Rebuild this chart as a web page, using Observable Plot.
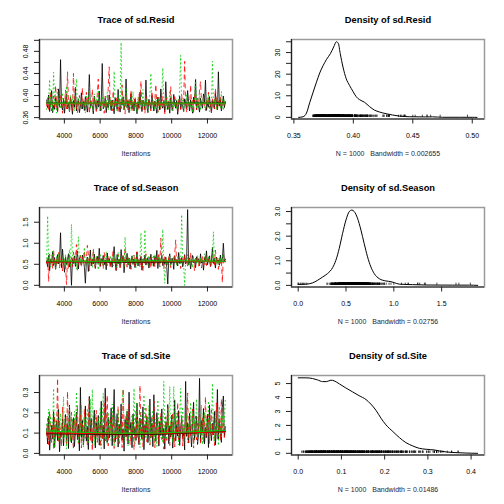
<!DOCTYPE html>
<html>
<head>
<meta charset="utf-8">
<script src="https://cdn.jsdelivr.net/npm/d3@7"></script>
<script src="https://cdn.jsdelivr.net/npm/@observablehq/plot@0.6"></script>
<style>
  html, body { margin: 0; padding: 0; background: #fff; }
  #grid { display: grid; grid-template-columns: 252px 252px; grid-template-rows: 168px 168px 168px; width: 504px; height: 504px; }
  #grid svg { display: block; overflow: visible; }
</style>
</head>
<body>
<div id="grid"></div>
<script>
// ---------- data ----------
const startIter = 3010, thinStep = 55.5, nKept = 181;
const iterations = d3.range(nKept).map(i => startIter + i * thinStep);

const residChain1 = [.392,.378,.401,.371,.386,.409,.369,.382,.375,.396,.384,.371,.412,.379,.465,.381,.374,.393,.368,.388,
.402,.376,.385,.371,.397,.383,.366,.391,.379,.415,.372,.387,.394,.369,.381,.405,.376,.389,.373,.398,
.384,.370,.392,.438,.377,.386,.381,.367,.399,.385,.374,.391,.379,.408,.372,.388,.458,.376,.383,.395,
.369,.387,.378,.401,.384,.373,.392,.380,.367,.396,.386,.375,.411,.381,.370,.389,.383,.398,.374,.386,
.430,.378,.391,.369,.385,.403,.376,.388,.372,.394,.381,.367,.389,.377,.406,.383,.371,.392,.386,.375,
.428,.380,.369,.393,.384,.376,.401,.387,.372,.390,.379,.368,.397,.385,.374,.412,.382,.377,.391,.370,
.425,.384,.375,.389,.368,.396,.381,.373,.402,.386,.377,.391,.366,.384,.399,.375,.388,.380,.371,.394,
.383,.376,.409,.387,.372,.392,.380,.368,.397,.385,.430,.374,.389,.381,.370,.395,.384,.377,.403,.388,
.428,.373,.386,.379,.398,.382,.369,.391,.385,.376,.404,.388,.374,.443,.381,.393,.372,.386,.399,.378,
.389];
const residChain2 = [.381,.396,.374,.388,.407,.372,.385,.399,.376,.418,.383,.370,.391,.379,.402,.387,.368,.395,.381,.410,
.376,.443,.389,.371,.397,.384,.373,.440,.386,.393,.378,.369,.382,.400,.387,.375,.414,.381,.392,.373,
.406,.385,.398,.367,.390,.382,.411,.376,.394,.385,.371,.403,.430,.379,.388,.374,.391,.383,.368,.399,
.386,.377,.412,.452,.381,.393,.372,.408,.385,.378,.396,.384,.370,.397,.388,.376,.419,.382,.391,.367,
.402,.387,.374,.395,.381,.410,.373,.389,.384,.398,.379,.386,.371,.403,.388,.426,.374,.391,.383,.368,
.399,.386,.377,.393,.381,.372,.408,.385,.378,.394,.420,.384,.370,.397,.388,.376,.405,.382,.391,.367,
.385,.396,.374,.389,.381,.416,.373,.388,.384,.398,.379,.386,.371,.395,.383,.375,.401,.387,.392,.462,
.384,.370,.397,.388,.376,.419,.382,.391,.367,.402,.387,.374,.395,.381,.410,.425,.389,.384,.398,.379,
.373,.391,.385,.406,.377,.388,.369,.394,.382,.376,.413,.386,.372,.390,.381,.399,.375,.387,.393,.380,
.384];
const residChain3 = [.375,.386,.392,.429,.379,.393,.371,.442,.384,.390,.368,.412,.381,.397,.376,.388,.405,.373,.392,.383,
.417,.377,.389,.370,.401,.385,.394,.379,.372,.408,.430,.380,.396,.374,.386,.383,.390,.378,.387,.369,
.401,.393,.384,.415,.376,.389,.381,.372,.403,.386,.395,.374,.410,.382,.388,.371,.399,.385,.377,.392,
.383,.406,.373,.389,.397,.380,.386,.375,.444,.384,.391,.370,.401,.387,.378,.496,.382,.395,.374,.388,
.414,.379,.390,.385,.372,.396,.381,.407,.373,.388,.384,.369,.398,.386,.376,.392,.380,.411,.375,.389,
.382,.395,.371,.387,.403,.440,.378,.391,.385,.374,.399,.383,.370,.394,.386,.377,.404,.450,.381,.388,
.372,.397,.384,.376,.409,.385,.391,.373,.388,.380,.396,.375,.386,.382,.414,.473,.379,.392,.371,.387,
.383,.401,.374,.389,.385,.378,.395,.369,.386,.392,.430,.376,.388,.381,.407,.373,.390,.384,.397,.380,
.375,.391,.386,.402,.371,.388,.383,.462,.379,.394,.385,.374,.399,.381,.390,.376,.407,.384,.373,.392,
.386];

const seasonChain1 = [.58,.44,.71,.35,.62,.53,.80,.47,.66,.38,.59,.73,.51,.64,1.25,.42,.86,.55,.31,.68,
.49,.61,.75,.44,.57,.00,.63,.52,.70,.45,.59,.81,.39,.66,.54,.48,.72,.61,.43,.05,
.56,.67,.33,.58,.84,.46,.62,.51,.74,.40,.59,.69,.52,.88,.45,.63,.56,.71,.49,.60,
.37,.77,.54,.64,.47,.58,.43,.66,.92,.55,.35,.73,.51,.62,.44,.85,.57,.69,.30,.61,
.53,.76,.48,.65,.39,.58,.70,.50,.63,.42,.57,.79,.46,.60,.54,.68,.36,.62,.55,.72,
.48,.59,.66,.41,.57,.74,.52,.61,.45,.69,.56,.83,.40,.64,.53,.58,.71,.47,.62,.50,
.67,.43,.03,.60,.75,.49,.56,.64,.38,.70,.55,.61,.46,.78,.52,.59,.66,.44,.57,.73,
.51,.62,1.80,.48,.65,.39,.58,.71,.54,.60,.42,.68,.56,.63,.47,.75,.53,.59,.36,.66,
.57,.82,.49,.61,.70,.45,.58,.90,.52,.64,.41,.67,.55,.60,.48,.72,.56,.63,1.00,.58,
.62];
const seasonChain2 = [.52,.68,.09,.74,.48,.61,.39,.83,.56,.45,.63,.50,.78,.41,.59,.70,.34,.65,.55,.47,
.02,.60,.38,.72,.53,.66,.44,.79,.58,.49,.97,.36,.62,.54,.71,.43,.67,.57,.82,.46,
.60,.95,.75,.35,.64,.58,.48,.87,.55,.42,.69,.61,.50,.73,.45,.59,.65,.39,.78,.55,
.62,.47,.70,.53,.44,.64,.58,.85,.49,.67,.36,.60,.74,.52,.41,.63,.56,.71,.47,.89,
.57,.43,.68,.53,.61,.38,.66,.55,.72,.46,.59,.80,.50,.63,.42,.69,.57,.34,.64,.52,
.75,.48,.60,.56,.67,.41,.62,.53,.70,.45,.58,.65,.50,.77,.44,1.12,.61,.55,.39,.68,
.54,.63,.47,.71,.57,.42,.66,.59,.51,.74,1.08,.46,.62,.55,.69,.40,.58,.64,.49,.72,
.56,.61,.44,.67,.53,.78,.48,.60,.57,.35,.65,.52,.70,.46,.59,.63,.41,.68,.55,.50,
.74,.47,.62,.58,.66,.43,.71,.54,.60,.49,.84,.57,.63,.38,.67,.52,.59,.07,.73,.56,
.61];
const seasonChain3 = [.63,1.65,.55,.72,.43,.63,.81,.49,.58,.37,.68,.54,.76,.46,.60,.51,.66,.40,.57,.73,
.48,.62,.55,.85,.44,1.45,.69,.58,.50,.77,.39,.64,1.15,.56,.71,.47,.60,.53,.90,.45,
.57,.66,.49,.74,.55,.61,.42,.83,.58,.47,.69,.54,.37,.63,.75,.51,.59,.44,.67,.56,
.80,.48,.62,.53,.71,.57,.65,.46,.73,.55,.60,.41,.78,.52,.64,.49,.70,.57,.44,1.15,
.61,.54,.68,.47,.63,.56,.72,.50,.59,.66,.43,.75,.58,.52,.69,1.25,.46,.62,.55,1.32,
.57,.64,.48,.71,.53,.60,.45,.67,.58,.74,.51,.62,.56,.69,.44,.63,.57,1.33,.52,.05,
.66,.49,.61,.58,.72,.47,.64,.55,.70,.53,.60,.46,.68,.57,.63,.51,1.68,.59,.45,.00,
.62,.56,.73,.48,.65,.54,.60,.42,.69,.57,.63,.50,.71,.55,.47,.66,.58,.61,.52,.75,
.49,.64,.57,.70,.53,.60,.46,.67,1.27,.55,.62,.51,.68,.58,.44,.65,.56,.71,.53,.60,
.63];

const siteChain1 = [.123,.047,.184,.016,.092,.138,.071,.206,.029,.113,.158,.063,.217,.008,.104,.083,.169,.037,.131,.192,
.058,.147,.024,.238,.087,.052,.126,.176,.034,.108,.203,.068,.143,.013,.325,.079,.163,.042,.097,.234,
.061,.134,.019,.281,.094,.172,.049,.118,.213,.027,.152,.084,.187,.041,.112,.257,.073,.139,.022,.321,
.101,.054,.178,.076,.129,.224,.038,.161,.315,.057,.107,.196,.031,.144,.089,.243,.066,.121,.011,.167,
.082,.208,.046,.302,.114,.153,.028,.194,.091,.127,.064,.248,.099,.043,.173,.117,.069,.229,.018,.141,
.093,.182,.053,.116,.268,.077,.149,.033,.289,.109,.059,.201,.133,.036,.157,.088,.219,.072,.124,.021,
.154,.098,.241,.048,.136,.081,.188,.026,.111,.262,.062,.142,.086,.211,.039,.122,.171,.074,.103,.017,
.355,.084,.151,.051,.198,.106,.032,.146,.252,.067,.119,.183,.044,.094,.370,.056,.162,.102,.221,.047,
.128,.078,.193,.029,.239,.112,.063,.148,.091,.207,.041,.124,.315,.071,.168,.098,.054,.227,.283,.082,
.132];
const siteChain2 = [.089,.172,.043,.209,.113,.057,.141,.023,.186,.081,.122,.370,.052,.158,.097,.034,.228,.069,.133,.177,
.038,.305,.093,.147,.062,.203,.106,.019,.168,.084,.128,.236,.049,.103,.192,.027,.144,.073,.217,.088,
.117,.042,.163,.271,.058,.114,.012,.182,.077,.137,.212,.054,.098,.153,.031,.188,.066,.123,.247,.061,
.092,.287,.037,.131,.174,.083,.108,.198,.024,.149,.071,.126,.232,.048,.101,.159,.029,.320,.142,.079,
.191,.063,.109,.242,.044,.127,.087,.169,.018,.119,.208,.072,.154,.053,.335,.096,.178,.033,.139,.082,
.223,.057,.121,.162,.041,.111,.187,.076,.258,.028,.134,.091,.171,.047,.116,.199,.068,.143,.021,.104,
.181,.064,.226,.108,.039,.152,.083,.202,.118,.032,.157,.094,.251,.059,.129,.099,.189,.036,.138,.074,
.206,.112,.298,.051,.164,.089,.127,.218,.026,.122,.183,.067,.148,.102,.237,.043,.107,.173,.058,.131,
.279,.084,.136,.193,.049,.124,.214,.093,.161,.038,.113,.249,.071,.128,.179,.062,.268,.101,.147,.078,
.114];
const siteChain3 = [.143,.072,.218,.097,.183,.053,.124,.320,.027,.158,.086,.248,.061,.134,.197,.042,.109,.279,.077,.152,
.022,.187,.103,.231,.058,.128,.172,.039,.208,.091,.302,.118,.048,.163,.082,.238,.112,.031,.176,.069,
.137,.222,.054,.098,.268,.079,.315,.132,.041,.193,.107,.063,.174,.088,.228,.024,.149,.297,.083,.068,
.127,.044,.201,.094,.159,.057,.243,.114,.033,.181,.119,.078,.212,.052,.141,.103,.272,.312,.059,.148,
.092,.217,.038,.168,.122,.073,.191,.099,.320,.047,.138,.252,.081,.162,.029,.204,.108,.064,.288,.129,
.071,.178,.096,.237,.043,.154,.087,.213,.117,.058,.169,.034,.263,.112,.076,.186,.142,.051,.355,.101,
.161,.068,.224,.121,.330,.089,.182,.053,.330,.129,.084,.198,.113,.042,.171,.320,.093,.229,.062,.139,
.098,.192,.052,.147,.123,.251,.077,.209,.031,.164,.111,.268,.057,.133,.184,.091,.239,.044,.144,.203,
.073,.173,.106,.258,.054,.151,.094,.345,.118,.061,.207,.102,.179,.039,.232,.127,.082,.188,.109,.157,
.265];

// smoothed (lowess) lines per chain
const smoothIter = [3010, 5000, 7000, 9000, 11000, 13000];
const residSmooth1 = [0.3862,0.3860,0.3858,0.3860,0.3862,0.3864];
const residSmooth2 = [0.3852,0.3854,0.3856,0.3855,0.3853,0.3852];
const residSmooth3 = [0.3860,0.3862,0.3865,0.3863,0.3861,0.3860];
const seasonSmooth1 = [0.56,0.56,0.55,0.55,0.56,0.57];
const seasonSmooth2 = [0.55,0.56,0.56,0.56,0.57,0.56];
const seasonSmooth3 = [0.58,0.57,0.57,0.58,0.58,0.57];
const siteSmooth1 = [0.097,0.095,0.093,0.094,0.100,0.108];
const siteSmooth2 = [0.101,0.098,0.096,0.097,0.102,0.106];
const siteSmooth3 = [0.110,0.104,0.099,0.100,0.106,0.113];

// density curves
const residDensX = [0.354,0.3578,0.3606,0.3634,0.3662,0.369,0.3717,0.3746,0.3773,0.3807,0.3835,0.3857,0.3874,0.389,0.3913,0.394,0.3968,0.3996,0.4024,0.4052,0.4094,0.4136,0.4177,0.4219,0.4275,0.433,0.4387,0.447,0.461,0.4665,0.475,0.489,0.50,0.504];
const residDensY = [0,0.3,2,7,11.7,16.3,20.5,24,26.7,29.5,32.6,35,34.2,29.5,23.3,17.9,14.8,12.1,9.6,8.2,7,5,3.4,2.5,1.7,1.1,0.6,0.3,0.2,0.25,0.05,0.05,0.03,0];
const seasonDensX = [0.0,0.08,0.15,0.2,0.255,0.307,0.36,0.394,0.429,0.464,0.5,0.534,0.56,0.586,0.62,0.656,0.69,0.725,0.76,0.795,0.848,0.917,0.97,1.005,1.057,1.196,1.336,1.615,1.79,1.877];
const seasonDensY = [0.04,0.05,0.1,0.2,0.34,0.48,0.72,1.02,1.5,2.11,2.66,3.0,3.06,3.0,2.73,2.25,1.7,1.16,0.75,0.48,0.27,0.18,0.15,0.11,0.05,0.03,0.015,0.01,0.01,0];
const siteDensX = [0.0,0.0178,0.0332,0.0448,0.0564,0.0656,0.0757,0.0834,0.095,0.110,0.126,0.141,0.157,0.168,0.18,0.1915,0.203,0.219,0.234,0.249,0.265,0.28,0.296,0.315,0.327,0.342,0.365,0.388,0.415];
const siteDensY = [5.41,5.41,5.36,5.26,5.14,5.14,5.24,5.19,4.98,4.69,4.4,4.13,3.85,3.53,3.08,2.52,2.04,1.56,1.13,0.77,0.53,0.36,0.29,0.24,0.17,0.1,0.05,0.02,0];

const sampleSize = 1000;
const bandwidths = {resid: "0.002655", season: "0.02756", site: "0.01486"};

// tick labels
const traceXTicks = [4000, 6000, 8000, 10000, 12000];
const residTraceYTicks = [0.36,0.38,0.40,0.42,0.44,0.46,0.48,0.50];
const residTraceYLabels = [0.36,0.40,0.44,0.48];
const seasonTraceYTicks = [0,0.5,1.0,1.5];
const siteTraceYTicks = [0,0.1,0.2,0.3];
const residDensXTicks = [0.35,0.40,0.45,0.50];
const residDensYTicks = [0,5,10,15,20,25,30,35];
const residDensYLabels = [0,10,20,30];
const seasonDensXTicks = [0,0.5,1.0,1.5];
const seasonDensYTicks = [0,0.5,1,1.5,2,2.5,3];
const seasonDensYLabels = [0,1,2,3];
const siteDensXTicks = [0,0.1,0.2,0.3,0.4];
const siteDensYTicks = [0,1,2,3,4,5];

const chainColors = ["#000000", "#FF0000", "#00CD00"];
const chainDash = [null, "4,4", "1,3"];

// ---------- drawing ----------
const FONT = "'Liberation Sans', Arial, Helvetica, sans-serif";
const f2 = d3.format(".2f"), f1 = d3.format(".1f"), f0 = d3.format("d");

function panel({title, xDomain, yDomain, marks, xTicks, xFormat, yTicks, yLabels, yFormat, xlab}) {
  return Plot.plot({
    width: 252, height: 168,
    marginLeft: 39, marginRight: 20, marginTop: 39, marginBottom: 49.5,
    x: {domain: xDomain},
    y: {domain: yDomain},
    style: {fontFamily: FONT, fontSize: "7px", color: "#000", background: "white", overflow: "visible"},
    marks: [
      ...marks,
      Plot.frame({stroke: "#9a9a9a", strokeWidth: 1.5}),
      Plot.ruleX([xDomain[0]], {stroke: "#222", strokeWidth: 1.2}),
      Plot.ruleY([yDomain[0]], {stroke: "#222", strokeWidth: 1.2}),
      Plot.axisX({ticks: xTicks, tickSize: 5, tickPadding: 9, tickFormat: xFormat, label: null, fontSize: 7, stroke: "#222"}),
      Plot.axisY({ticks: yTicks, tickSize: 5, tickFormat: () => "", label: null, stroke: "#222"}),
      Plot.text(yLabels, {y: d => d, text: yFormat, frameAnchor: "left", dx: -14, rotate: -90, textAnchor: "middle", lineAnchor: "middle", fontSize: 7}),
      Plot.text([title], {frameAnchor: "top", dy: -19.7, fontWeight: "bold", fontSize: 9.3, lineAnchor: "middle"}),
      Plot.text([xlab], {frameAnchor: "bottom", dy: 34.8, fontSize: 7, lineAnchor: "middle", fill: "#1e2538"})
    ]
  });
}

function traceMarks(chains, smooths) {
  const m = [];
  chains.forEach((vals, k) => {
    const rows = vals.map((v, i) => ({it: iterations[i], v}));
    m.push(Plot.line(rows, {x: "it", y: "v", stroke: chainColors[k], strokeWidth: 0.8, strokeDasharray: chainDash[k]}));
  });
  smooths.forEach((vals, k) => {
    const rows = vals.map((v, i) => ({it: smoothIter[i], v}));
    m.push(Plot.line(rows, {x: "it", y: "v", stroke: chainColors[k], strokeWidth: 1}));
  });
  return m;
}

function densMarks(densX, densY, chains, yDomain) {
  const all = chains.flat();
  const rugTop = (yDomain[1] - yDomain[0]) * 0.028;
  const curve = densX.map((x, i) => ({x, y: densY[i]}));
  return [
    Plot.ruleX(all, {x: d => d, y1: 0, y2: rugTop, stroke: "#000", strokeWidth: 0.7}),
    Plot.line(curve, {x: "x", y: "y", stroke: "#000", strokeWidth: 1, curve: "monotone-x"})
  ];
}

const traceXDomain = [2610, 13400];
const residChains = [residChain1, residChain2, residChain3];
const seasonChains = [seasonChain1, seasonChain2, seasonChain3];
const siteChains = [siteChain1, siteChain2, siteChain3];
const bwLabel = key => `N = ${sampleSize}\u00a0\u00a0\u00a0Bandwidth = ${bandwidths[key]}`;

const specs = [
  {title: "Trace of sd.Resid", xDomain: traceXDomain, yDomain: [0.3575, 0.5015],
   marks: traceMarks(residChains, [residSmooth1, residSmooth2, residSmooth3]),
   xTicks: traceXTicks, xFormat: d => String(d), yTicks: residTraceYTicks, yLabels: residTraceYLabels, yFormat: f2, xlab: "Iterations"},
  {title: "Density of sd.Resid", xDomain: [0.348, 0.5103], yDomain: [-0.75, 36.05],
   marks: densMarks(residDensX, residDensY, residChains, [-0.75, 36.05]),
   xTicks: residDensXTicks, xFormat: f2, yTicks: residDensYTicks, yLabels: residDensYLabels, yFormat: f0, xlab: bwLabel("resid")},
  {title: "Trace of sd.Season", xDomain: traceXDomain, yDomain: [-0.04, 1.85],
   marks: traceMarks(seasonChains, [seasonSmooth1, seasonSmooth2, seasonSmooth3]),
   xTicks: traceXTicks, xFormat: d => String(d), yTicks: seasonTraceYTicks, yLabels: seasonTraceYTicks, yFormat: f1, xlab: "Iterations"},
  {title: "Density of sd.Season", xDomain: [-0.07, 1.948], yDomain: [-0.066, 3.164],
   marks: densMarks(seasonDensX, seasonDensY, seasonChains, [-0.066, 3.164]),
   xTicks: seasonDensXTicks, xFormat: f1, yTicks: seasonDensYTicks, yLabels: seasonDensYLabels, yFormat: f1, xlab: bwLabel("season")},
  {title: "Trace of sd.Site", xDomain: traceXDomain, yDomain: [-0.008, 0.384],
   marks: traceMarks(siteChains, [siteSmooth1, siteSmooth2, siteSmooth3]),
   xTicks: traceXTicks, xFormat: d => String(d), yTicks: siteTraceYTicks, yLabels: siteTraceYTicks, yFormat: f1, xlab: "Iterations"},
  {title: "Density of sd.Site", xDomain: [-0.0155, 0.431], yDomain: [-0.12, 5.577],
   marks: densMarks(siteDensX, siteDensY, siteChains, [-0.12, 5.577]),
   xTicks: siteDensXTicks, xFormat: f1, yTicks: siteDensYTicks, yLabels: siteDensYTicks, yFormat: f0, xlab: bwLabel("site")}
];

const grid = document.getElementById("grid");
for (const s of specs) grid.appendChild(panel(s));
</script>
</body>
</html>
